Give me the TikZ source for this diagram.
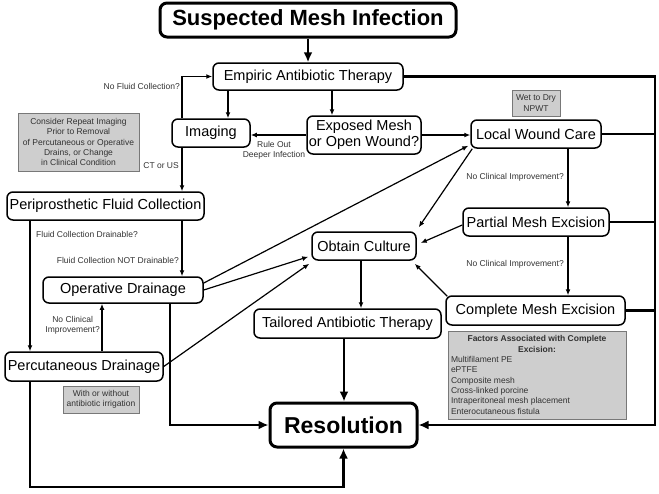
\documentclass[tikz,border=0pt]{standalone}
\usepackage{fontspec}
\setmainfont{Liberation Sans}
\usetikzlibrary{arrows.meta,calc}
\definecolor{gboxfill}{RGB}{206,206,206}
\definecolor{gboxline}{RGB}{120,120,120}
\definecolor{labeltext}{RGB}{50,50,50}
\begin{document}
\begin{tikzpicture}[x=1pt,y=-1pt,
 box/.style={draw, line width=1.5pt, rounded corners=6pt, inner sep=0pt, align=center, font=\fontsize{14.5}{16}\selectfont},
 bigbox/.style={draw, line width=3pt, rounded corners=7pt, inner sep=0pt, font=\fontsize{22}{24}\selectfont\bfseries},
 greybox/.style={draw=gboxline, fill=gboxfill, line width=0.9pt, inner sep=0pt, align=center, text=labeltext, font=\fontsize{8.5}{10.3}\selectfont},
 lbl/.style={inner sep=0pt, font=\fontsize{8.5}{10.3}\selectfont, text=labeltext},
 arr/.style={line width=1.2pt, -{Latex[length=6pt,width=5pt]}},
 thk/.style={line width=2.8pt},
 thkarr/.style={line width=2.8pt, -{Latex[length=10pt,width=9pt]}},
]
\useasboundingbox (0,0) rectangle (659,493);

% nodes
\node[bigbox, minimum width=296pt, minimum height=34pt] (title) at (308,20) {Suspected Mesh Infection};
\node[box, minimum width=190pt, minimum height=27pt] (emp) at (308,76.5) {Empiric Antibiotic Therapy};
\node[box, minimum width=78pt, minimum height=28pt] (img) at (211,133) {Imaging};
\node[box, minimum width=114pt, minimum height=38pt] (exp) at (364,135) {Exposed Mesh\\or Open Wound?};
\node[box, minimum width=130pt, minimum height=28pt] (lwc) at (536,134) {Local Wound Care};
\node[greybox, minimum width=48pt, minimum height=26pt] (wet) at (536,103) {Wet to Dry\\NPWT};
\node[box, minimum width=146pt, minimum height=28pt] (pme) at (536,222) {Partial Mesh Excision};
\node[box, minimum width=104pt, minimum height=28pt] (obc) at (364,246) {Obtain Culture};
\node[box, minimum width=179pt, minimum height=29pt] (cme) at (535.5,310.5) {Complete Mesh Excision};
\node[greybox, minimum width=178pt, minimum height=88pt, text width=172pt, align=none] (fac) at (537,375)
 {{\centering\bfseries Factors Associated with Complete\\Excision:\par}\raggedright
  Multifilament PE\\ePTFE\\Composite mesh\\Cross-linked porcine\\Intraperitoneal mesh placement\\Enterocutaneous fistula\par};
\node[box, minimum width=187pt, minimum height=29pt] (tat) at (347.5,323.5) {Tailored Antibiotic Therapy};
\node[bigbox, minimum width=147pt, minimum height=44pt, font=\fontsize{23}{25}\selectfont\bfseries] (res) at (343.5,425) {Resolution};
\node[greybox, minimum width=121pt, minimum height=58pt] (cri) at (78.5,142)
 {Consider Repeat Imaging\\Prior to Removal\\of Percutaneous or Operative\\Drains, or Change\\in Clinical Condition};
\node[box, minimum width=197pt, minimum height=28pt] (pfc) at (105.5,206) {Periprosthetic Fluid Collection};
\node[box, minimum width=160pt, minimum height=26pt] (opd) at (123,290) {Operative Drainage};
\node[box, minimum width=158pt, minimum height=29pt] (ptd) at (84,366.5) {Percutaneous Drainage};
\node[greybox, minimum width=76pt, minimum height=27pt] (woi) at (101,399.5) {With or without\\antibiotic irrigation};

% labels
\node[lbl, anchor=east] (l1) at (180,86) {No Fluid Collection?};
\node[lbl, anchor=east] (l2) at (179,166) {CT or US};
\node[lbl, align=center] (l3) at (274,150) {Rule Out\\Deeper Infection};
\node[lbl, anchor=west] (l4) at (36,234) {Fluid Collection Drainable?};
\node[lbl, anchor=east] (l5) at (179,260) {Fluid Collection NOT Drainable?};
\node[lbl, align=center, anchor=east] (l6) at (100,325) {No Clinical\\Improvement?};
\node[lbl, anchor=east] (l7) at (564,177) {No Clinical Improvement?};
\node[lbl, anchor=east] (l8) at (564,264) {No Clinical Improvement?};

% helper coordinates
\coordinate (x228) at (228,0);
\coordinate (x332) at (332,0);
\coordinate (x182) at (182,0);
\coordinate (x30) at (30,0);
\coordinate (x102) at (102,0);
\coordinate (x568) at (568,0);
\coordinate (x361) at (361,0);
\coordinate (x344) at (344,0);
\coordinate (x170) at (170,0);
\coordinate (bl) at (30,487);
\coordinate (rb) at (655,425);

% thin connectors
\draw[thkarr] (title) -- (emp);
\draw[arr] (emp.south -| x228) -- (img.north -| x228);
\draw[arr] (emp.south -| x332) -- (exp.north -| x332);
\draw[arr] (exp.west) -- (exp.west -| img.east);
\draw[arr] (exp.east) -- (exp.east -| lwc.west);
\draw[arr] (img.north -| x182) |- (emp.west);
\draw[arr] (img.south -| x182) -- (pfc.north -| x182);
\draw[arr] (pfc.south -| x30) -- (ptd.north -| x30);
\draw[arr] (pfc.south -| x182) -- (opd.north -| x182);
\draw[arr] (ptd.north -| x102) -- (opd.south -| x102);
\draw[arr] ([yshift=7pt]opd.east) -- ([xshift=-2pt,yshift=3pt]lwc.south west);
\draw[arr] (opd.east) -- ([xshift=-3pt,yshift=4pt]obc.south west);
\draw[arr] (ptd.east) -- ([xshift=-2pt,yshift=-3pt]obc.south west);
\draw[arr] ([xshift=2pt]lwc.south west) -- ([xshift=2pt,yshift=4pt]obc.north east);
\draw[arr] ([yshift=-3pt]pme.west) -- ([xshift=4pt,yshift=3pt]obc.east);
\draw[arr] ([xshift=2pt,yshift=-1pt]cme.north west) -- ([xshift=-2pt,yshift=-3pt]obc.south east);
\draw[arr] (lwc.south -| x568) -- (pme.north -| x568);
\draw[arr] (pme.south -| x568) -- (cme.north -| x568);
\draw[arr] (obc.south -| x361) -- (tat.north -| x361);

% thick connectors
\draw[thkarr] (tat.south -| x344) -- (res.north -| x344);
\draw[thkarr] (opd.south -| x170) |- (res.west);
\draw[thkarr] (ptd.south -| bl) -- (bl) -| (res.south);
\draw[thkarr] (emp.east) -| (rb) -- (res.east);
\draw[thk] (lwc.east) -- (lwc.east -| rb);
\draw[thk] (pme.east) -- (pme.east -| rb);
\draw[thk] (cme.east) -- (cme.east -| rb);
\end{tikzpicture}
\end{document}
